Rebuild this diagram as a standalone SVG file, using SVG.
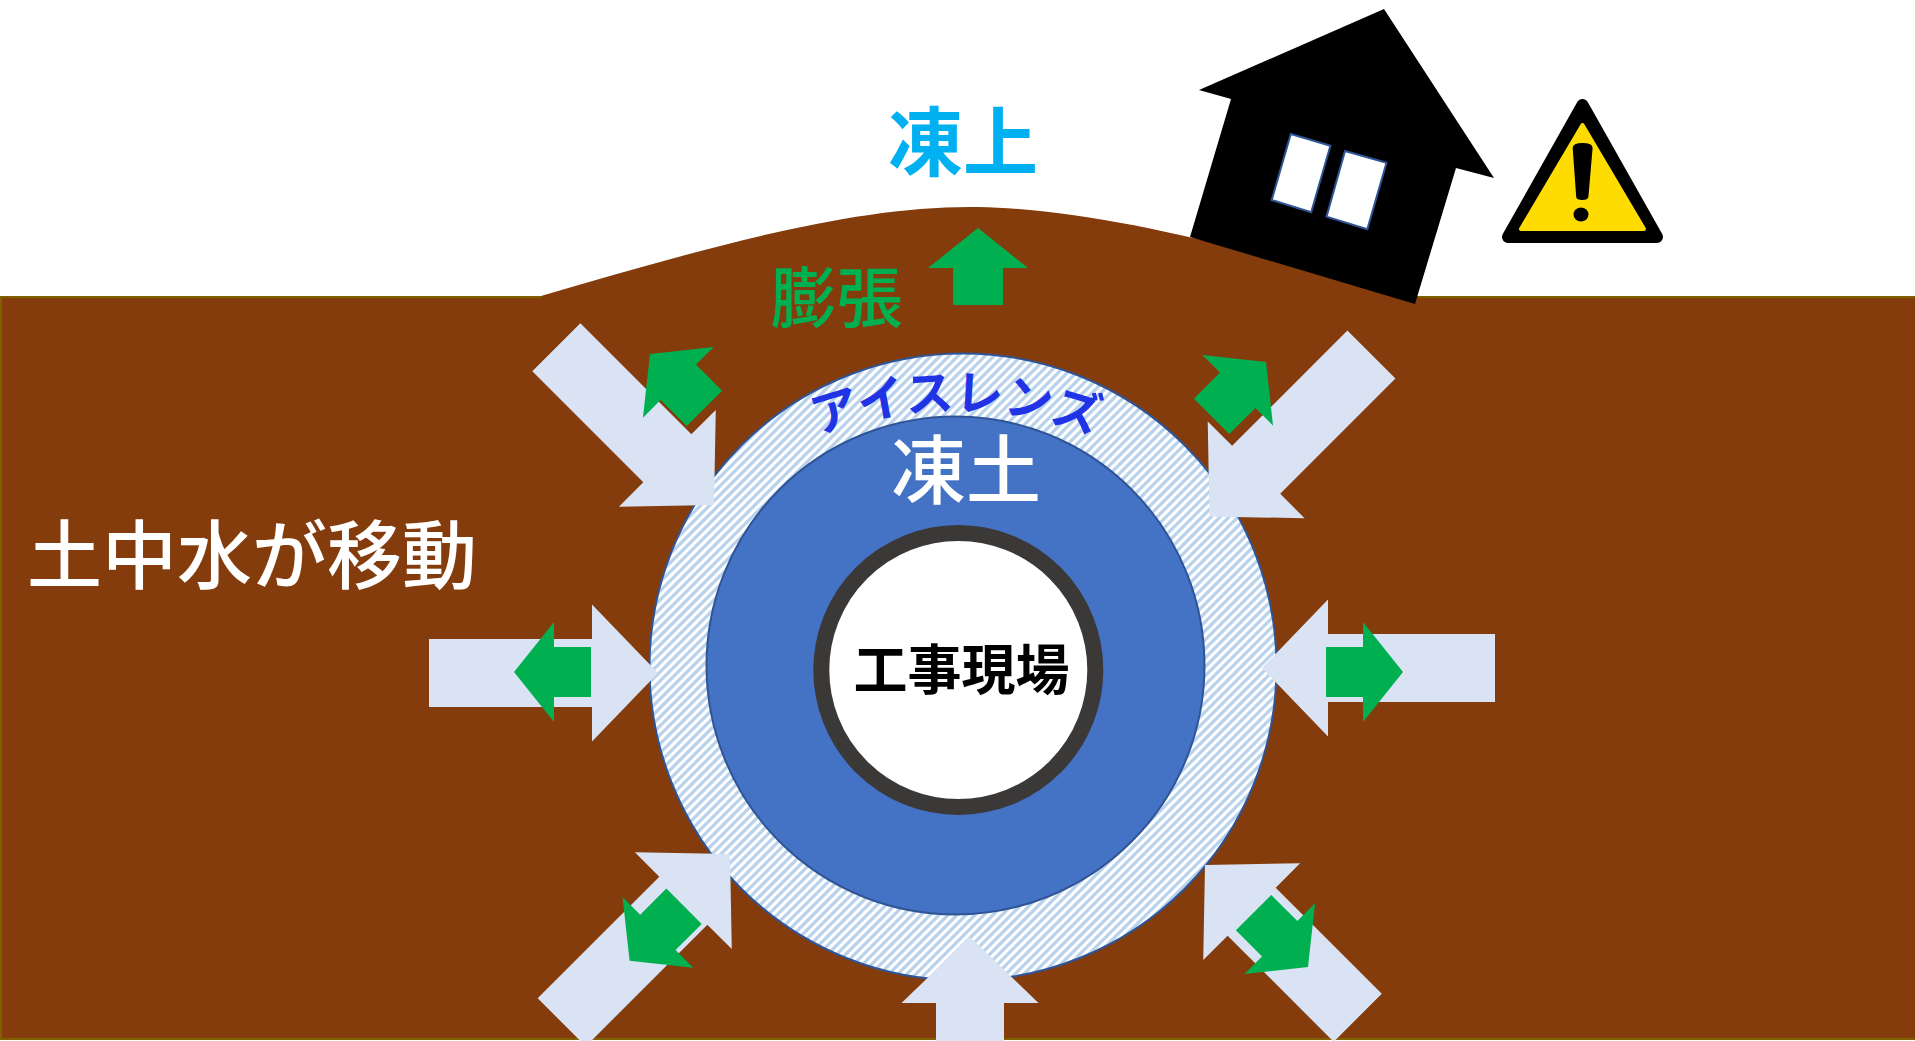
<svg xmlns="http://www.w3.org/2000/svg" width="1915" height="1041" viewBox="0 0 1915 1041">
  <style>
    .jp { font-family: 'Noto Sans CJK JP', 'Noto Sans CJK SC', sans-serif; }
    .push { fill: #DAE3F3; }
    .swell { fill: #00B050; }
    .window { fill: #FFFFFF; stroke: #2F5597; stroke-width: 2; }
  </style>
  <defs>
    <!-- wide upward diagonal hatch for the ice-lens layer -->
    <pattern id="hatch" patternUnits="userSpaceOnUse" width="9" height="9">
      <rect width="9" height="9" fill="#FFFFFF"/>
      <path d="M-2,2 L2,-2 M0,9 L9,0 M7,11 L11,7" stroke="#B9D2EC" stroke-width="3.2"/>
    </pattern>
    <!-- baseline arc for the ice-lens caption -->
    <path id="lensArc" d="M609.6,610 A400,400 0 0 1 1302.4,610" fill="none"/>
    <!-- block arrow pointing +x with the tip at the origin -->
    <polygon id="swellArrow" points="0,0 -40,-50 -40,-25 -77,-25 -77,25 -40,25 -40,50"/>
  </defs>

  <rect width="1915" height="1041" fill="#FFFFFF"/>

  <g id="ground">
    <rect x="1" y="297" width="1916" height="742" fill="#843C0C" stroke="#7F6000" stroke-width="2"/>
    <path d="M541,296 C700,250 850,205 978,207 C1100,209 1250,250 1418,297 L1418,299 L541,299 Z" fill="#843C0C"/>
  </g>

  <g id="house">
    <polygon points="1384,9 1494,178 1456,168 1415,304 1190,237 1231,99 1199,90" fill="#000000"/>
    <polygon class="window" points="1290.8,134 1330.4,145.7 1311.2,212.3 1271.7,200"/>
    <polygon class="window" points="1345,151 1386.5,162.7 1367.3,229.3 1326.5,216.7"/>
  </g>

  <g id="warning">
    <polygon points="1582.5,105 1508,237 1657,237" fill="#000000" stroke="#000000" stroke-width="12" stroke-linejoin="round"/>
    <polygon points="1582.5,125 1521,229 1644,229" fill="#FFDC00" stroke="#FFDC00" stroke-width="4" stroke-linejoin="round"/>
    <path d="M1572.7,148 Q1572.7,143 1582.6,143 Q1592.6,143 1592.6,148 L1588.4,197 Q1588,200 1582.3,200 Q1576.4,200 1576.2,197 Z" fill="#000000"/>
    <ellipse cx="1581" cy="214.5" rx="7.5" ry="7" fill="#000000"/>
  </g>

  <g id="ice-lens">
    <circle cx="963" cy="667" r="313.5" fill="url(#hatch)" stroke="#2F5597" stroke-width="2"/>
    <text class="jp" font-size="48" font-weight="bold" fill="#2034E6" letter-spacing="0">
      <textPath href="#lensArc" startOffset="50%" text-anchor="middle">アイスレンズ</textPath>
    </text>
  </g>

  <g id="frozen-soil">
    <circle cx="955.5" cy="665.5" r="249" fill="#4472C4" stroke="#2F5597" stroke-width="2"/>
    <text class="jp" x="966" y="498" font-size="75" font-weight="500" fill="#FFFFFF" text-anchor="middle">凍土</text>
  </g>

  <g id="site">
    <circle cx="958.3" cy="670" r="137" fill="#FFFFFF" stroke="#3B3838" stroke-width="16"/>
    <text class="jp" x="961.5" y="690" font-size="54" font-weight="bold" fill="#000000" text-anchor="middle">工事現場</text>
  </g>

  <g id="connectors">
    <!-- inflowing soil water -->
    <polygon class="push" transform="translate(658,673)" points="0,0 -66,-68.5 -66,-34 -229,-34 -229,34 -66,34 -66,68.5"/>
    <polygon class="push" transform="translate(1262,668) rotate(180)" points="0,0 -66,-68.5 -66,-34 -233,-34 -233,34 -66,34 -66,68.5"/>
    <polygon class="push" transform="translate(970,937) rotate(-90)" points="0,0 -66,-68.5 -66,-34 -186,-34 -186,34 -66,34 -66,68.5"/>
    <polygon class="push" transform="translate(714,505) rotate(45)" points="0,0 -66,-68.5 -66,-34 -223,-34 -223,34 -66,34 -66,68.5"/>
    <polygon class="push" transform="translate(1209.5,516.5) rotate(135)" points="0,0 -66,-68.5 -66,-34 -229,-34 -229,34 -66,34 -66,68.5"/>
    <polygon class="push" transform="translate(730,854) rotate(-45)" points="0,0 -66,-68.5 -66,-34 -238,-34 -238,34 -66,34 -66,68.5"/>
    <polygon class="push" transform="translate(1205,865) rotate(-135)" points="0,0 -66,-68.5 -66,-34 -216,-34 -216,34 -66,34 -66,68.5"/>
    <!-- outward expansion -->
    <use href="#swellArrow" class="swell" transform="translate(514,672) rotate(180)"/>
    <use href="#swellArrow" class="swell" transform="translate(1403,672)"/>
    <use href="#swellArrow" class="swell" transform="translate(978,228) rotate(-90)"/>
    <use href="#swellArrow" class="swell" transform="translate(650,354) rotate(-135)"/>
    <use href="#swellArrow" class="swell" transform="translate(1266,362) rotate(-45)"/>
    <use href="#swellArrow" class="swell" transform="translate(629.6,960.7) rotate(135)"/>
    <use href="#swellArrow" class="swell" transform="translate(1308,967) rotate(45)"/>
  </g>

  <g id="labels">
    <text class="jp" x="963" y="170" font-size="75" font-weight="bold" fill="#00B0F0" text-anchor="middle">凍上</text>
    <text class="jp" x="836.5" y="322" font-size="66" font-weight="500" fill="#00B050" text-anchor="middle">膨張</text>
    <text class="jp" x="252" y="583" font-size="75" font-weight="500" fill="#FFFFFF" text-anchor="middle">土中水が移動</text>
  </g>
</svg>
